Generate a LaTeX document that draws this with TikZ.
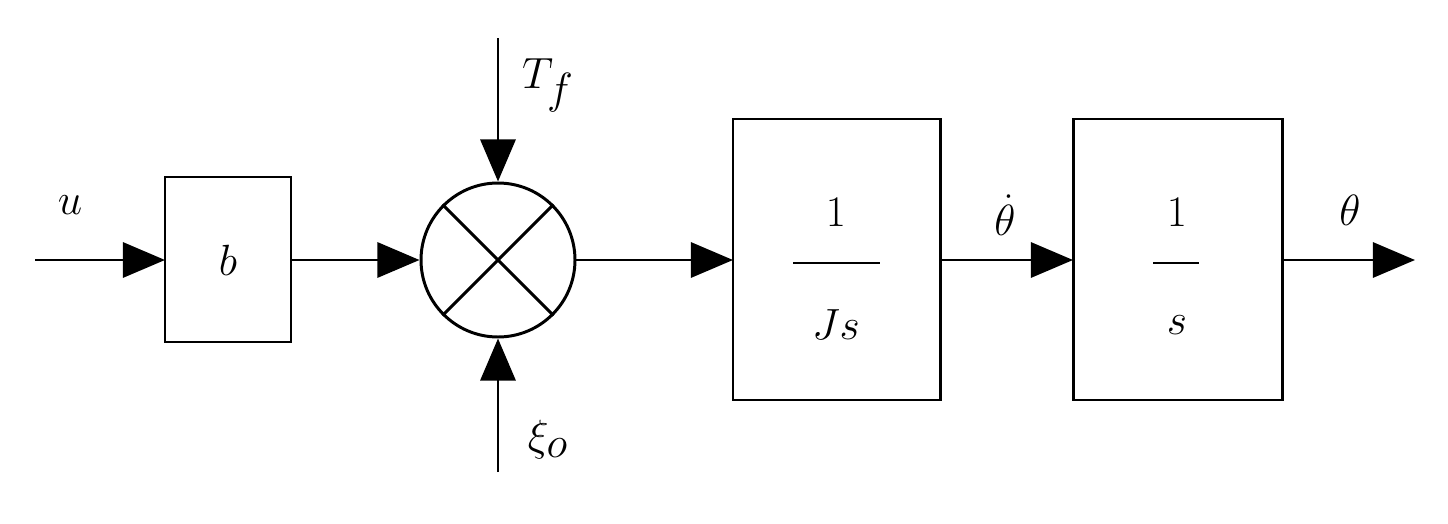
\documentclass[tikz,border=0pt]{standalone}
\usetikzlibrary{arrows.meta}
\begin{document}
\begin{tikzpicture}[x=0.02cm,y=-0.02cm,line width=1.7pt,
  arr/.style={-{Triangle[length=24pt,width=20pt]}},
  lbl/.style={font=\fontsize{40}{44}\selectfont,inner sep=0pt}]
\useasboundingbox (0,0) rectangle (1448,524);
\draw (165,177) rectangle (291,342);
\node[lbl] (b) at (228,260) {$b$};
\coordinate (bl) at (165,260); \coordinate (br) at (291,260);
\coordinate (in) at (35,260);
\node[draw,circle,minimum size=154*0.02cm,inner sep=0pt] (s) at (498,260) {};
\draw (s.45) -- (s.225) (s.135) -- (s.315);
\draw (733,119) rectangle (940,400);
\draw (1073,119) rectangle (1282,400);
\coordinate (j1) at (733,260); \coordinate (j2) at (940,260);
\coordinate (k1) at (1073,260); \coordinate (k2) at (1282,260);
\coordinate (out) at (1415,260);
\coordinate (tf) at (498,38); \coordinate (xi) at (498,472);
\draw[arr] (in) -- (bl);
\draw[arr] (br) -- (s.west);
\draw[arr] (tf) -- (s.north);
\draw[arr] (xi) -- (s.south);
\draw[arr] (s.east) -- (j1);
\draw[arr] (j2) -- (k1);
\draw[arr] (k2) -- (out);
\node[lbl] (u) at (70,205) {$u$};
\node[lbl] (T) at (548,85) {$T_f$};
\node[lbl] (X) at (548,440) {$\xi_o$};
\node[lbl] (n1) at (836,212) {$1$};
\draw (793,263) -- (880,263);
\node[lbl] (d1) at (836,325) {$Js$};
\node[lbl] (n2) at (1177,212) {$1$};
\draw (1153,263) -- (1199,263);
\node[lbl] (d2) at (1177,325) {$s$};
\node[lbl] (td) at (1005,215) {$\dot\theta$};
\node[lbl] (t) at (1350,210) {$\theta$};
\end{tikzpicture}
\end{document}
